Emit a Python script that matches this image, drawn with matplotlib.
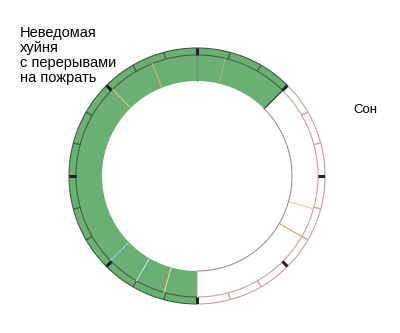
import numpy as np
import matplotlib.pyplot as plt

plt.rcParams['font.family'] = ['Liberation Sans', 'DejaVu Sans']

GREEN = "#6aaf74"

# outer ring: 24 hours, starting at top (0h), clockwise
hours = list(range(24))
sleep_hours = set(range(3, 12))

# inner ring: activity segments (hours) and whether it's sleep
seg_lengths = [0.9, 2.1, 4.05, 0.95, 4.0, 1.05, 0.95, 1.05, 6.0, 1.5, 1.45]
seg_sleep = [False, False, True, True, True, False, False, False, False, False, False]
# colour of the divider at the start of each segment
seg_edges = ["#6f9a72", "#a8b07a", "#2a2a2a", "#f3c8b0", "#d9a060",
             "#f0d8c8", "#f0d080", "#b0e0e8", "#80d0e0", "#d8c070", "#c8b870"]

label_work = "Неведомая\nхуйня\nс перерывами\nна пожрать"
label_sleep = "Сон"

fig = plt.figure(figsize=(4.0, 3.33), dpi=100)
R = 128
cx, cy = 197, 176
ax = fig.add_axes([(cx - R) / 400, (333 - cy - R) / 333, 2 * R / 400, 2 * R / 333])

r_mid = 121 / R
r_in = 95 / R

# inner thick ring, no outlines
in_colors = ["white" if s else GREEN for s in seg_sleep]
ax.pie(seg_lengths, radius=r_mid, colors=in_colors,
       startangle=90, counterclock=False,
       wedgeprops=dict(width=r_mid - r_in, linewidth=0))

# dividers between inner segments
starts = np.concatenate([[0], np.cumsum(seg_lengths)[:-1]])
for s, ec in zip(starts, seg_edges):
    a = np.deg2rad(90 - s * 15)
    ax.plot([r_in * np.cos(a), r_mid * np.cos(a)], [r_in * np.sin(a), r_mid * np.sin(a)],
            color=ec, lw=0.8)

# outer thin ring, one wedge per hour
out_colors = ["white" if h in sleep_hours else GREEN for h in hours]
wedges, _ = ax.pie([1] * len(hours), radius=1.0, colors=out_colors,
                   startangle=90, counterclock=False,
                   wedgeprops=dict(width=1.0 - r_mid, linewidth=0.8))
for h, w in zip(hours, wedges):
    w.set_edgecolor("#c9a0a0" if h in sleep_hours else "#3f5f44")

# inner edge of sleep section
t = np.linspace(3, 12, 100)
ang = np.deg2rad(90 - t * 15)
ax.plot(r_in * np.cos(ang), r_in * np.sin(ang), color="#888888", lw=0.7)

# bold ticks every 3 hours
for h in hours[::3]:
    a = np.deg2rad(90 - h * 15)
    ax.plot([r_mid * np.cos(a), np.cos(a)], [r_mid * np.sin(a), np.sin(a)],
            color="#222222", lw=2.2, solid_capstyle="butt")

ax.set_xlim(-1, 1)
ax.set_ylim(-1, 1)
ax.set_aspect("equal")
ax.axis("off")

fig.text(20 / 400, 1 - 26 / 333, label_work, fontsize=10.5, va="top", ha="left",
         linespacing=1.08)
fig.text(353 / 400, 1 - 110 / 333, label_sleep, fontsize=9.5, va="center", ha="left")

fig.savefig("out.png", dpi=100)
